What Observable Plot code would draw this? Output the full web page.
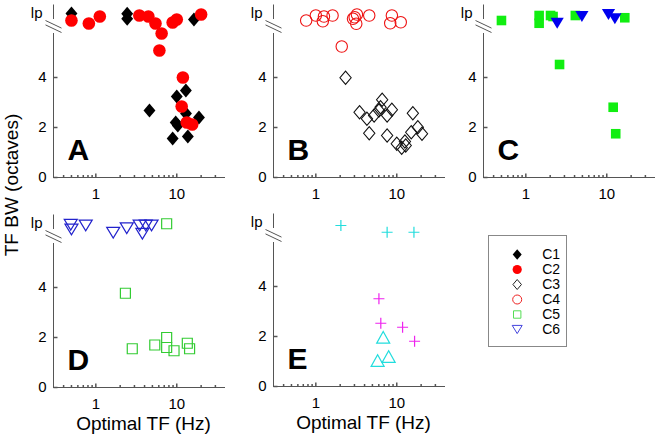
<!DOCTYPE html>
<html><head><meta charset="utf-8">
<script src="https://cdn.jsdelivr.net/npm/d3@7"></script>
<script src="https://cdn.jsdelivr.net/npm/@observablehq/plot@0.6"></script>
<style>
body{margin:0;background:#fff;font-family:"Liberation Sans",Arial,sans-serif;}
#chart{position:relative;width:657px;height:436px;overflow:hidden;}
#chart svg{position:absolute;overflow:visible;}
#ylabel{position:absolute;left:12px;top:185px;transform:translate(-50%,-50%) rotate(-90deg);font-size:19px;white-space:nowrap;color:#000;}
</style></head><body>
<div id="chart"><div id="ylabel">TF BW (octaves)</div></div>
<script>
// ---------- axes / labels ----------
const xDomain = [0.3, 40];
const yDomain = [0, 6.9];
const xTicks = [1, 10];
const xMinorTicks = [0.4, 0.5, 0.6, 0.7, 0.8, 0.9, 2, 3, 4, 5, 6, 7, 8, 9, 20, 30];
const yTicks = [0, 2, 4];
const lpLabel = "lp";
const lpLevel = 6.56;
const axisBreak = [5.76, 6.32];
const xLabel = "Optimal TF (Hz)";
const panelLetters = ["A", "B", "C", "D", "E"];
const legendNames = ["C1", "C2", "C3", "C4", "C5", "C6"];

// ---------- data (optimal TF in Hz, TF bandwidth in octaves; ~6.1-6.6 = "lp") ----------
// Panel A
const A_C1_tf = [0.5, 2.44, 2.44, 16.3, 12.96, 10.0, 4.6, 13.0, 18.8, 10.3, 9.7, 8.9, 13.7];
const A_C1_bw = [6.56, 6.55, 6.35, 6.32, 3.48, 3.24, 2.68, 2.56, 2.4, 2.08, 2.2, 1.56, 1.64];
const A_C2_tf = [0.5, 0.82, 1.12, 3.45, 4.46, 5.46, 6.5, 6.1, 8.9, 10.0, 20.0, 11.9, 11.5, 13.3, 15.5];
const A_C2_bw = [6.28, 6.16, 6.44, 6.48, 6.44, 6.16, 5.76, 5.08, 6.2, 6.32, 6.52, 4.0, 2.84, 2.2, 2.12];
// Panel B
const B_C3_tf = [2.33, 3.47, 4.28, 4.57, 5.25, 6.02, 6.6, 6.3, 7.6, 8.7, 7.6, 10.0, 11.5, 12.9, 12.6, 15.8, 15.1, 18.2, 20.5];
const B_C3_bw = [3.99, 2.61, 2.35, 1.77, 2.48, 2.68, 3.11, 2.81, 2.48, 2.71, 1.68, 1.35, 1.19, 1.28, 1.44, 2.57, 1.81, 2.01, 1.75];
const B_C4_tf = [0.76, 1.0, 1.26, 1.22, 1.61, 2.88, 3.02, 3.22, 3.16, 4.57, 8.7, 8.3, 11.2, 2.09];
const B_C4_bw = [6.28, 6.48, 6.44, 6.25, 6.48, 6.35, 6.41, 6.52, 6.15, 6.48, 6.48, 6.17, 6.21, 5.24];
// Panel C
const C_C5_tf = [0.5, 1.46, 1.46, 2.02, 2.17, 4.09, 16.7, 2.61, 12.0, 12.9];
const C_C5_bw = [6.28, 6.48, 6.17, 6.48, 6.44, 6.48, 6.39, 4.52, 2.81, 1.75];
const C_C6_tf = [2.44, 4.93, 10.5, 12.6];
const C_C6_bw = [6.17, 6.44, 6.52, 6.35];
// Panel D
const D_C6_tf = [0.49, 0.5, 0.75, 1.64, 2.41, 3.48, 3.76, 4.14, 4.88];
const D_C6_bw = [6.51, 6.32, 6.48, 6.19, 6.37, 6.48, 6.15, 6.48, 6.48];
const D_C5_tf = [7.5, 2.32, 2.82, 5.35, 7.5, 7.5, 9.25, 13.5, 14.4];
const D_C5_bw = [6.55, 3.77, 1.55, 1.7, 2.0, 1.6, 1.47, 1.77, 1.55];
// Panel E
const E_cyanPlus_tf = [2.04, 7.6, 16.3];
const E_cyanPlus_bw = [6.44, 6.17, 6.17];
const E_magentaPlus_tf = [6.02, 6.35, 11.8, 16.6];
const E_magentaPlus_bw = [3.51, 2.53, 2.37, 1.81];
const E_cyanTri_tf = [6.8, 5.8, 7.94];
const E_cyanTri_bw = [1.97, 1.04, 1.2];

// ---------- symbols ----------
const rad = s => Math.sqrt(s / Math.PI);
const SYM = {
  diamond: {draw(c, s) { const r = rad(s), w = 0.85 * r; c.moveTo(0, -r); c.lineTo(w, 0); c.lineTo(0, r); c.lineTo(-w, 0); c.closePath(); }},
  triDown: {draw(c, s) { const r = rad(s), h = 0.82 * r; c.moveTo(-r, -h); c.lineTo(r, -h); c.lineTo(0, h); c.closePath(); }},
  triUp: {draw(c, s) { const r = rad(s), h = 0.9 * r; c.moveTo(-r, h); c.lineTo(r, h); c.lineTo(0, -h); c.closePath(); }},
  square: {draw(c, s) { const r = rad(s); c.moveTo(-r, -r); c.lineTo(r, -r); c.lineTo(r, r); c.lineTo(-r, r); c.closePath(); }},
  plus: {draw(c, s) { const r = rad(s); c.moveTo(-r, 0); c.lineTo(r, 0); c.moveTo(0, -r); c.lineTo(0, r); }},
  vtick: {draw(c, s) { const r = rad(s); c.moveTo(0, 0); c.lineTo(0, -r); }},
  htick: {draw(c, s) { const r = rad(s); c.moveTo(0, 0); c.lineTo(r, 0); }},
  brk: {draw(c, s) { const r = rad(s); c.moveTo(-r, -0.75 * r); c.lineTo(r, 0.2 * r); c.moveTo(-r, -0.2 * r); c.lineTo(r, 0.75 * r); }}
};

const zip = (xs, ys) => xs.map((x, i) => ({tf: x, bw: ys[i]}));
const AX = "#555";
const FONT = "'Liberation Sans', Arial, Helvetica, sans-serif";

function layer(data, symbol, r, fill, stroke, sw = 1.2) {
  return Plot.dot(data, {x: "tf", y: "bw", symbol, r, fill, stroke, strokeWidth: sw});
}

function panel(left, top, letter, layers, withXLabel) {
  const mb = withXLabel ? 50 : 30;
  const marks = [
    Plot.ruleY([0], {stroke: AX, strokeWidth: 1}),
    Plot.ruleX([xDomain[0]], {y1: () => 0, y2: () => axisBreak[0], stroke: AX, strokeWidth: 1}),
    Plot.ruleX([xDomain[0]], {y1: () => axisBreak[1], y2: () => yDomain[1], stroke: AX, strokeWidth: 1}),
    Plot.dot([ (axisBreak[0] + axisBreak[1]) / 2 ], {x: () => xDomain[0], y: d => d, symbol: SYM.brk, r: 8, fill: "none", stroke: AX, strokeWidth: 1}),
    Plot.dot(xTicks, {x: d => d, y: () => 0, symbol: SYM.vtick, r: 4, fill: "none", stroke: AX}),
    Plot.dot(xMinorTicks, {x: d => d, y: () => 0, symbol: SYM.vtick, r: 2.5, fill: "none", stroke: AX}),
    Plot.dot(yTicks, {x: () => xDomain[0], y: d => d, symbol: SYM.htick, r: 4, fill: "none", stroke: AX}),
    Plot.axisX({ticks: xTicks, tickFormat: d => String(d), tickSize: 0, tickPadding: 11, fontSize: 15, label: null}),
    Plot.axisY({ticks: yTicks, tickFormat: d => String(d), tickSize: 0, tickPadding: 7, fontSize: 15, label: null}),
    Plot.text([lpLabel], {x: () => xDomain[0], y: () => lpLevel, text: d => d, dx: -11, textAnchor: "end", fontSize: 15}),
    Plot.text([letter], {frameAnchor: "bottom-left", text: d => d, dx: 14, dy: -27.5, lineAnchor: "middle", textAnchor: "start", fontSize: 30, fontWeight: "bold"}),
    ...layers
  ];
  if (withXLabel) marks.push(Plot.text([xLabel], {frameAnchor: "bottom", text: d => d, dy: 36, dx: 4, lineAnchor: "middle", fontSize: 19}));
  const svg = Plot.plot({
    width: 53 + 172 + 6, height: 177 + mb,
    marginLeft: 53, marginRight: 6, marginTop: 4.5, marginBottom: mb,
    x: {type: "log", domain: xDomain, axis: null},
    y: {domain: yDomain, axis: null},
    style: {background: "transparent", overflow: "visible", fontFamily: FONT, color: "#000"},
    marks
  });
  svg.style.left = left + "px";
  svg.style.top = top + "px";
  document.getElementById("chart").appendChild(svg);
}

panel(0, 0, panelLetters[0], [
  layer(zip(A_C1_tf, A_C1_bw), SYM.diamond, 7, "#000", "none"),
  layer(zip(A_C2_tf, A_C2_bw), "circle", 6.3, "#ff0000", "none")
], false);
panel(220, 0, panelLetters[1], [
  layer(zip(B_C3_tf, B_C3_bw), SYM.diamond, 6.6, "none", "#111", 1.1),
  layer(zip(B_C4_tf, B_C4_bw), "circle", 5.7, "none", "#ee1111", 1.1)
], false);
panel(430, 0, panelLetters[2], [
  layer(zip(C_C5_tf, C_C5_bw), SYM.square, 4.8, "#11ee11", "none"),
  layer(zip(C_C6_tf, C_C6_bw), SYM.triDown, 6.6, "#0000ee", "none")
], false);
panel(0, 210, panelLetters[3], [
  layer(zip(D_C6_tf, D_C6_bw), SYM.triDown, 6.5, "none", "#2222cc", 1.2),
  layer(zip(D_C5_tf, D_C5_bw), SYM.square, 5, "none", "#33cc33", 1.2)
], true);
panel(220, 209, panelLetters[4], [
  layer(zip(E_cyanPlus_tf, E_cyanPlus_bw), SYM.plus, 5.5, "none", "#22dddd", 1.2),
  layer(zip(E_magentaPlus_tf, E_magentaPlus_bw), SYM.plus, 5.5, "none", "#ee22ee", 1.2),
  layer(zip(E_cyanTri_tf, E_cyanTri_bw), SYM.triUp, 6.5, "none", "#22dddd", 1.2)
], true);

// ---------- legend ----------
const legendSymbols = [
  {symbol: SYM.diamond, r: 5.3, fill: "#000", stroke: "none"},
  {symbol: "circle", r: 4.6, fill: "#ff0000", stroke: "none"},
  {symbol: SYM.diamond, r: 5, fill: "none", stroke: "#222"},
  {symbol: "circle", r: 4.5, fill: "none", stroke: "#ee2222"},
  {symbol: SYM.square, r: 3.7, fill: "none", stroke: "#55dd55"},
  {symbol: SYM.triDown, r: 5, fill: "none", stroke: "#4444dd"}
];
const legend = Plot.plot({
  width: 78, height: 111, margin: 0,
  y: {type: "point", domain: legendNames, range: [11.7, 101.7], axis: null},
  style: {background: "transparent", overflow: "visible", fontFamily: FONT, color: "#000"},
  marks: [
    Plot.frame({stroke: "#888", strokeWidth: 1}),
    ...legendNames.map((n, i) => Plot.dot([n], {y: d => d, dx: -10.3, symbol: legendSymbols[i].symbol, r: legendSymbols[i].r, fill: legendSymbols[i].fill, stroke: legendSymbols[i].stroke, strokeWidth: 1})),
    Plot.text(legendNames, {y: d => d, text: d => d, frameAnchor: "left", dx: 53.7, textAnchor: "start", fontSize: 14})
  ]
});
legend.style.left = "488px";
legend.style.top = "235px";
document.getElementById("chart").appendChild(legend);
</script>
</body></html>
